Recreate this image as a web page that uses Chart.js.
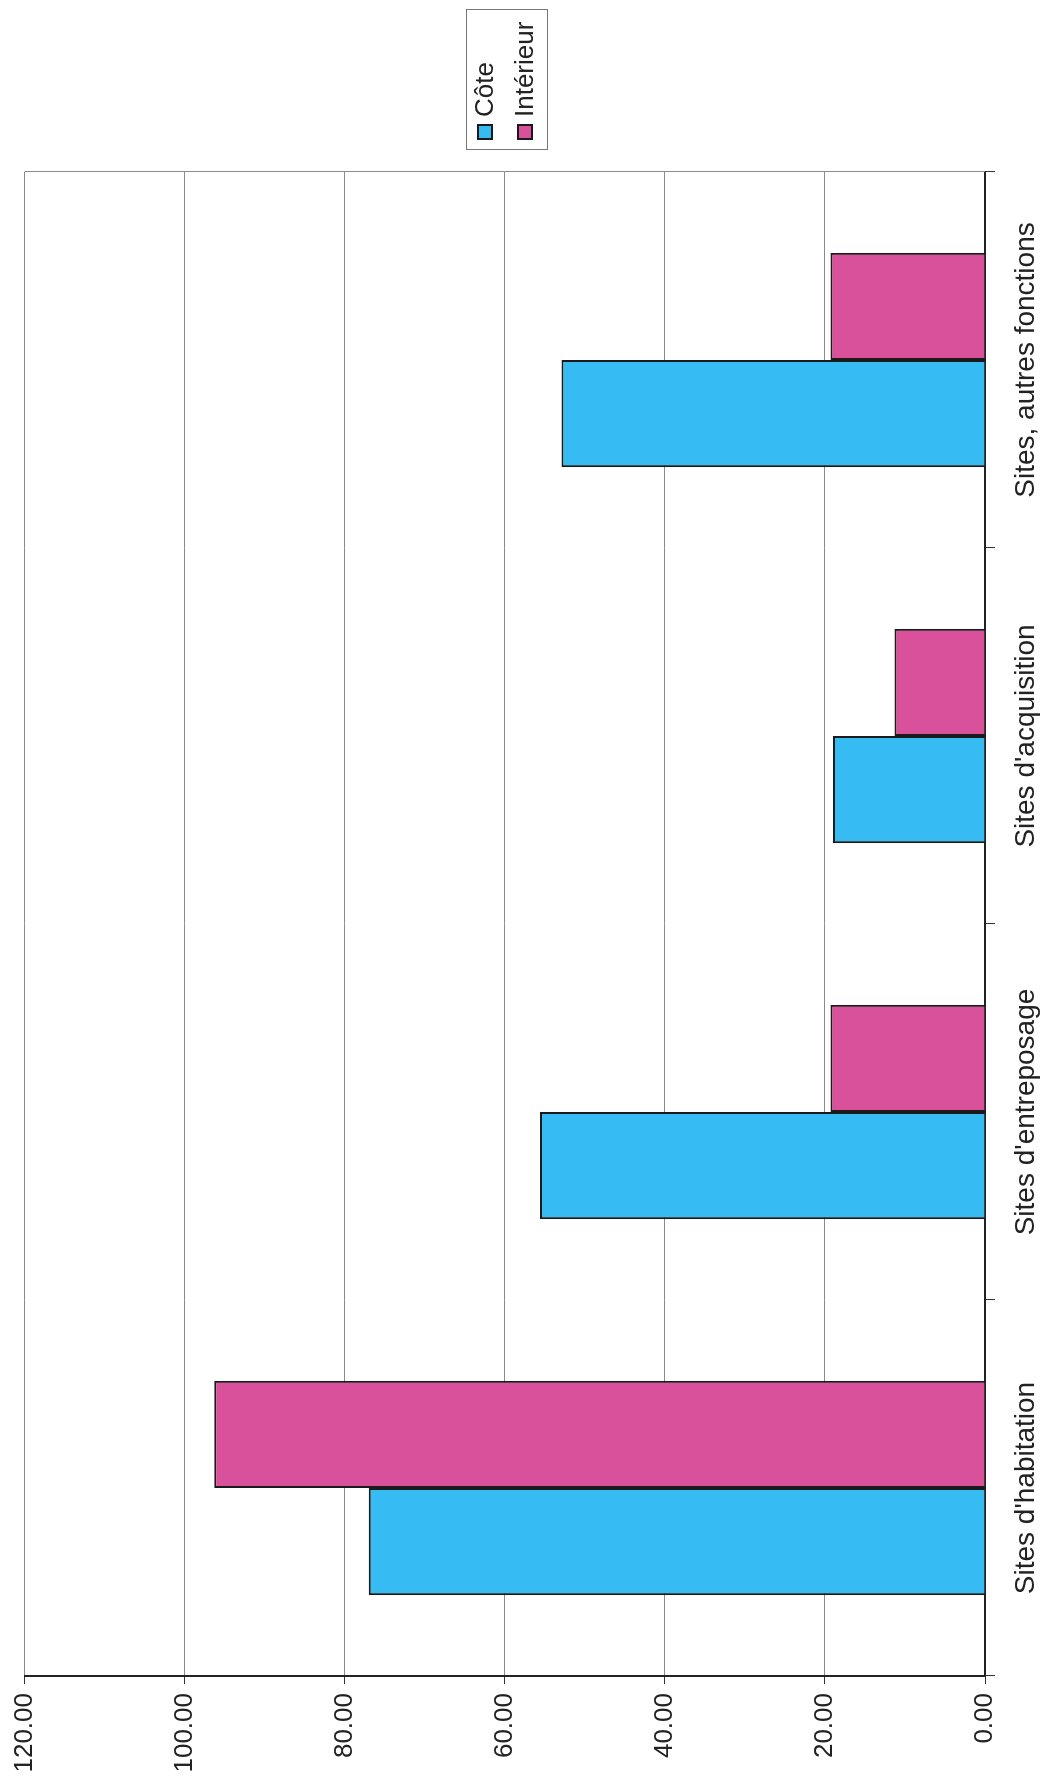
<!DOCTYPE html>
<html>
<head>
<meta charset="utf-8">
<script src="https://cdn.jsdelivr.net/npm/chart.js@4.4.1/dist/chart.umd.min.js"></script>
<style>
  html, body { margin: 0; padding: 0; background: #fff; width: 1042px; height: 1781px; overflow: hidden; }
  /* the chart is laid out landscape and turned a quarter turn so it reads bottom-to-top */
  #wrap { position: absolute; left: 0; top: 0; width: 1781px; height: 1042px;
          transform-origin: 0 0; transform: translate(0, 1781px) rotate(-90deg); }
</style>
</head>
<body>
<div id="wrap"><canvas id="c" width="1781" height="1042"></canvas></div>
<script>
const categories = ["Sites d'habitation", "Sites d'entreposage", "Sites d'acquisition", "Sites, autres fonctions"];
const cote = [77.0, 55.6, 19.0, 52.9];
const interieur = [96.3, 19.3, 11.3, 19.3];
const seriesNames = ["Côte", "Intérieur"];
const seriesColors = ["#36bcf3", "#d8519a"];
const valueMin = 0, valueMax = 120, valueStep = 20;

const FONT = "'Liberation Sans', Arial, sans-serif";
const INK = "#222";

// plot-area frame on the far side and a boxed legend
const framePlugin = {
  id: 'frameAndLegend',
  afterDraw(chart) {
    const ctx = chart.ctx, a = chart.chartArea;
    ctx.save();
    ctx.strokeStyle = '#8a8a8a';
    ctx.lineWidth = 1;
    ctx.beginPath();
    ctx.moveTo(a.right + 0.5, a.top);
    ctx.lineTo(a.right + 0.5, a.bottom);
    ctx.stroke();

    // legend
    const bx = 1631, by = 466, bw = 140, bh = 81;
    ctx.strokeStyle = '#777';
    ctx.strokeRect(bx + 0.5, by + 0.5, bw, bh);
    ctx.font = '26px ' + FONT;
    ctx.textBaseline = 'middle';
    ctx.textAlign = 'left';
    const rows = [485, 525];
    seriesNames.forEach((name, i) => {
      const y = rows[i];
      ctx.fillStyle = seriesColors[i];
      ctx.fillRect(1642, y - 7, 14, 14);
      ctx.strokeStyle = '#1a1a1a';
      ctx.lineWidth = 2;
      ctx.strokeRect(1642, y - 7, 14, 14);
      ctx.fillStyle = INK;
      ctx.fillText(name, 1664, y + 1);
    });
    ctx.restore();
  }
};

new Chart(document.getElementById('c'), {
  type: 'bar',
  data: {
    labels: categories,
    datasets: [
      { label: seriesNames[0], data: cote, backgroundColor: seriesColors[0], borderColor: '#1a1a1a', borderWidth: 2,
        categoryPercentage: 0.57, barPercentage: 1.0 },
      { label: seriesNames[1], data: interieur, backgroundColor: seriesColors[1], borderColor: '#1a1a1a', borderWidth: 2,
        categoryPercentage: 0.57, barPercentage: 1.0 }
    ]
  },
  options: {
    responsive: false,
    devicePixelRatio: 1,
    animation: false,
    layout: { padding: { top: 23, right: 172, bottom: 0, left: 0 } },
    plugins: { legend: { display: false }, tooltip: { enabled: false } },
    scales: {
      x: {
        offset: true,
        afterFit(scale) { scale.height = 57; },
        grid: { display: true, drawOnChartArea: false, drawTicks: true, tickLength: 10, color: '#333', offset: true },
        border: { display: true, color: '#222', width: 2 },
        ticks: { color: INK, font: { family: FONT, size: 28 }, padding: 14, maxRotation: 0, autoSkip: false }
      },
      y: {
        min: valueMin, max: valueMax,
        afterFit(scale) { scale.width = 105; },
        grid: { color: '#8a8a8a', lineWidth: 1, drawTicks: true, tickLength: 8, tickColor: '#333' },
        border: { display: true, color: '#222', width: 2 },
        ticks: { stepSize: valueStep, color: INK, font: { family: FONT, size: 26 }, padding: 9,
                 callback: v => Number(v).toFixed(2) }
      }
    }
  },
  plugins: [framePlugin]
});
</script>
</body>
</html>
